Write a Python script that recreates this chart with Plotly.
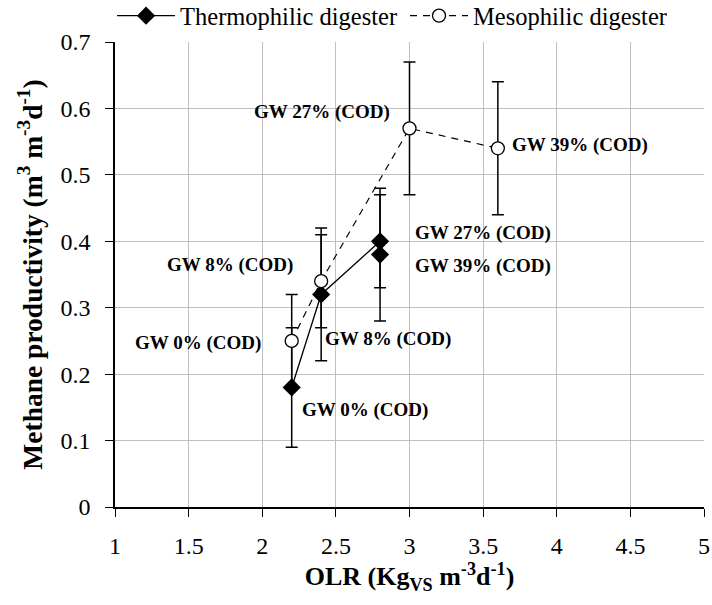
import plotly.graph_objects as go

# Data
thermo_x = [2.2, 2.4, 2.8, 2.8]
thermo_y = [0.18, 0.32, 0.40, 0.38]
thermo_err_plus = [0.09, 0.10, 0.07, 0.10]
thermo_err_minus = [0.09, 0.10, 0.07, 0.10]

meso_x = [2.2, 2.4, 3.0, 3.6]
meso_y = [0.25, 0.34, 0.57, 0.54]
meso_err = [0.07, 0.07, 0.10, 0.10]

x_ticks = [1, 1.5, 2, 2.5, 3, 3.5, 4, 4.5, 5]
y_ticks = [0, 0.1, 0.2, 0.3, 0.4, 0.5, 0.6, 0.7]

label_texts = ["GW 27% (COD)", "GW 39% (COD)", "GW 8% (COD)", "GW 27% (COD)",
               "GW 39% (COD)", "GW 0% (COD)", "GW 8% (COD)", "GW 0% (COD)"]
label_x = [2.883, 3.684, 2.224, 3.025, 3.025, 2.007, 2.414, 2.258]
label_y = [0.594, 0.545, 0.364, 0.413, 0.363, 0.247, 0.253, 0.146]
label_anchor = ["right", "left", "right", "left", "left", "right", "left", "left"]

FONT = "Liberation Serif, Times New Roman, serif"

fig = go.Figure()
fig.add_trace(go.Scatter(
    x=thermo_x, y=thermo_y, name="Thermophilic digester", mode="lines+markers",
    line=dict(color="black", width=1.3),
    marker=dict(symbol="diamond", size=14, color="black"),
    error_y=dict(type="data", array=thermo_err_plus, arrayminus=thermo_err_minus,
                 color="black", thickness=1.5, width=6),
    legend="legend",
))
fig.add_trace(go.Scatter(
    x=meso_x, y=meso_y, name="Mesophilic digester", mode="lines+markers",
    line=dict(color="black", width=1.2, dash="7px,6px"),
    marker=dict(symbol="circle", size=13, color="white", line=dict(color="black", width=1.3)),
    error_y=dict(type="data", array=meso_err, color="black", thickness=1.5, width=6),
    legend="legend2",
))

annotations = []
for t, x, y, a in zip(label_texts, label_x, label_y, label_anchor):
    annotations.append(dict(x=x, y=y, xref="x", yref="y", text="<b>%s</b>" % t,
                            showarrow=False, xanchor=a, yanchor="middle",
                            font=dict(family=FONT, size=19, color="black")))

legend_common = dict(orientation="h", xanchor="left", xref="paper",
                     y=0.974, yanchor="middle", yref="container",
                     font=dict(family=FONT, size=24.5), bgcolor="rgba(0,0,0,0)",
                     itemwidth=58)

fig.update_layout(
    width=712, height=605,
    margin=dict(l=115, r=8, t=42, b=98, autoexpand=False),
    plot_bgcolor="white", paper_bgcolor="white",
    font=dict(family=FONT, color="black", size=24),
    showlegend=True,
    legend=dict(x=-0.005, **legend_common),
    legend2=dict(x=0.4924, **legend_common),
    annotations=annotations,
    xaxis=dict(range=[1, 5], tickvals=x_ticks, ticktext=[str(v) for v in x_ticks],
               showgrid=True, gridcolor="#c0c0c0", gridwidth=1,
               showline=True, linecolor="black", linewidth=1.5,
               ticks="outside", ticklen=8, tickcolor="black", ticklabelstandoff=8,
               tickfont=dict(family=FONT, size=24), zeroline=False, automargin=False,
               title=dict(text="<b>OLR (Kg<sub>VS</sub> m<sup>-3</sup>d<sup>-1</sup>)</b>",
                          font=dict(family=FONT, size=26), standoff=0)),
    yaxis=dict(range=[0, 0.7], tickvals=y_ticks, ticktext=[str(v) for v in y_ticks],
               showgrid=True, gridcolor="#c0c0c0", gridwidth=1,
               showline=True, linecolor="black", linewidth=1.5,
               ticks="outside", ticklen=8, tickcolor="black", ticklabelstandoff=10,
               tickfont=dict(family=FONT, size=24), zeroline=False, automargin=False,
               title=dict(text="<b>Methane productivity (m<sup>3</sup> m<sup>-3</sup>d<sup>-1</sup>)</b>",
                          font=dict(family=FONT, size=27.5), standoff=10)),
)

fig.write_html("out.html")
